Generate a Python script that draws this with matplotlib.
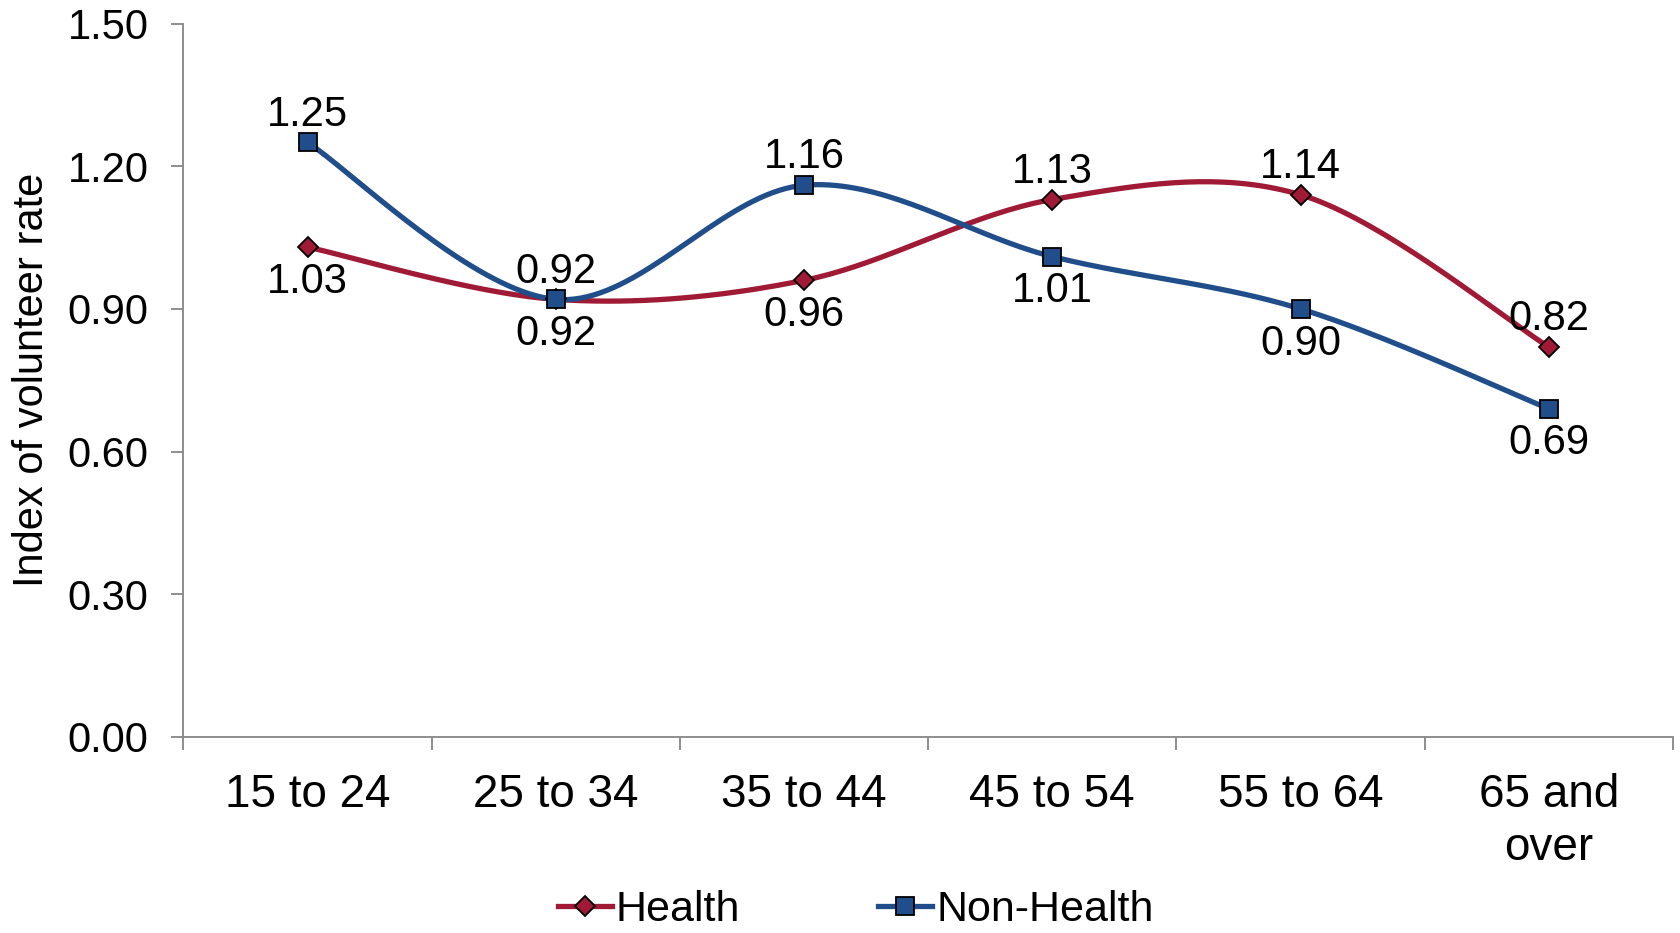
import numpy as np
import matplotlib.pyplot as plt
from matplotlib.lines import Line2D

# Index of volunteer rate by age group
age_groups = ["15 to 24", "25 to 34", "35 to 44", "45 to 54", "55 to 64", "65 and\nover"]
health = [1.03, 0.92, 0.96, 1.13, 1.14, 0.82]
non_health = [1.25, 0.92, 1.16, 1.01, 0.90, 0.69]
y_ticks = [0.00, 0.30, 0.60, 0.90, 1.20, 1.50]

RED = "#A01A35"
BLUE = "#1F4E8A"
AXIS_GREY = "#868686"

plt.rcParams["font.family"] = ["Liberation Sans", "DejaVu Sans"]


# Smooth curve through the points (Catmull-Rom style, as in spreadsheet "smoothed line")
def smooth(xs, ys, n=40):
    pts = np.column_stack([xs, ys]).astype(float)
    ext = np.vstack([pts[0], pts, pts[-1]])
    out = []
    for i in range(1, len(ext) - 2):
        p0, p1, p2, p3 = ext[i - 1], ext[i], ext[i + 1], ext[i + 2]
        c1 = p1 + (p2 - p0) / 6.0
        c2 = p2 - (p3 - p1) / 6.0
        t = np.linspace(0, 1, n)[:, None]
        seg = ((1 - t) ** 3) * p1 + 3 * ((1 - t) ** 2) * t * c1 + 3 * (1 - t) * t ** 2 * c2 + t ** 3 * p2
        out.append(seg if i == 1 else seg[1:])
    seg = np.vstack(out)
    return seg[:, 0], seg[:, 1]


fig = plt.figure(figsize=(16.81, 9.33), dpi=100)
ax = fig.add_axes([0.1091, 0.2103, 0.8861, 0.7644])

x = np.arange(len(age_groups)) + 0.5

# offsets (points) for labels above / below each marker
ABOVE, BELOW = 20, 25

series = [
    (health, RED, "D", 10, [-1, -1, -1, 1, 1, 1]),
    (non_health, BLUE, "s", 13, [1, 1, 1, -1, -1, -1]),
]

for vals, color, marker, ms, sides in series:
    sx, sy = smooth(x, vals)
    ax.plot(sx, sy, color=color, lw=3.8, solid_capstyle="round", zorder=2)
    ax.plot(x, vals, linestyle="none", marker=marker, markersize=ms,
            markerfacecolor=color, markeredgecolor="black", markeredgewidth=1.3, zorder=3)
    for xi, v, side in zip(x, vals, sides):
        dy = ABOVE if side > 0 else -BELOW
        ax.annotate(f"{v:.2f}", (xi, v), xytext=(0, dy), textcoords="offset points",
                    ha="center", va="center", fontsize=30, zorder=4)

ax.set_xlim(0, len(age_groups))
ax.set_ylim(0, 1.5)
ax.set_yticks(y_ticks)
ax.set_yticklabels([f"{t:.2f}" for t in y_ticks], fontsize=30)
ax.set_ylabel("Index of volunteer rate", fontsize=30, va="center")
ax.yaxis.set_label_coords(-0.1016, 0.5)

ax.set_xticks(np.arange(len(age_groups) + 1))
ax.set_xticklabels([])
ax.set_xticks(x, minor=True)
ax.set_xticklabels(age_groups, minor=True, fontsize=33, linespacing=1.27)
ax.tick_params(axis="x", which="minor", length=0, pad=26)
ax.tick_params(axis="x", which="major", length=9, width=1.3, color=AXIS_GREY, direction="out")
ax.tick_params(axis="y", length=9, width=1.3, color=AXIS_GREY, direction="out", pad=16)

for side in ["top", "right"]:
    ax.spines[side].set_visible(False)
for side in ["left", "bottom"]:
    ax.spines[side].set_color(AXIS_GREY)
    ax.spines[side].set_linewidth(1.3)

handles = [
    Line2D([], [], color=RED, lw=3.8, marker="D", markersize=10,
           markerfacecolor=RED, markeredgecolor="black", markeredgewidth=1.3),
    Line2D([], [], color=BLUE, lw=3.8, marker="s", markersize=13,
           markerfacecolor=BLUE, markeredgecolor="black", markeredgewidth=1.3),
]
fig.legend(handles, ["Health", "Non-Health"], loc="center", bbox_to_anchor=(0.509, 0.025),
           ncol=2, frameon=False, fontsize=31, handlelength=1.25, handletextpad=0.1,
           columnspacing=3.2, borderpad=0.1)

fig.savefig("out.png", dpi=100)
